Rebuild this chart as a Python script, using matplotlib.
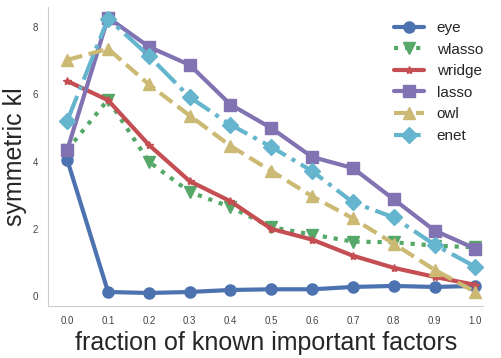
import matplotlib
matplotlib.use("Agg")
import matplotlib.pyplot as plt
import seaborn as sns

sns.set_style("white")
plt.rcParams['font.family'] = ['Liberation Sans', 'DejaVu Sans']

fractions = [0.0, 0.1, 0.2, 0.3, 0.4, 0.5, 0.6, 0.7, 0.8, 0.9, 1.0]
tick_labels = ["0.0", "0.1", "0.2", "0.3", "0.4", "0.5", "0.6", "0.7", "0.8", "0.9", "1.0"]
eye    = [4.05, 0.12, 0.09, 0.12, 0.18, 0.20, 0.20, 0.27, 0.30, 0.27, 0.30]
wlasso = [4.35, 5.85, 4.00, 3.10, 2.65, 2.05, 1.83, 1.62, 1.60, 1.50, 1.45]
wridge = [6.40, 5.83, 4.50, 3.42, 2.82, 2.00, 1.68, 1.20, 0.84, 0.57, 0.33]
lasso  = [4.35, 8.29, 7.42, 6.88, 5.70, 5.00, 4.14, 3.81, 2.88, 1.95, 1.41]
owl    = [7.03, 7.36, 6.30, 5.37, 4.47, 3.72, 2.97, 2.31, 1.56, 0.78, 0.12]
enet   = [5.22, 8.26, 7.15, 5.92, 5.10, 4.44, 3.72, 2.79, 2.34, 1.53, 0.87]

fig, ax = plt.subplots(figsize=(5.01, 3.58), dpi=100)
lw = 3
ms = 8
ax.plot(fractions, eye, color='#4C72B0', ls='-', marker='o', lw=lw, ms=ms, label='eye')
ax.plot(fractions, wlasso, color='#55A868', ls=':', marker='v', lw=lw, ms=ms, label='wlasso')
ax.plot(fractions, wridge, color='#C44E52', ls='-', marker='*', lw=lw, ms=6, label='wridge')
ax.plot(fractions, lasso, color='#8172B2', ls='-', marker='s', lw=lw, ms=ms, label='lasso')
ax.plot(fractions, owl, color='#CCB974', ls='--', marker='^', lw=lw, ms=ms, label='owl')
ax.plot(fractions, enet, color='#64B5CD', ls='-.', marker='D', lw=lw, ms=ms, label='enet')

ax.set_xlim(-0.047, 1.02)
ax.set_ylim(-0.3, 8.6)
ax.set_xticks(fractions)
ax.set_xticklabels(tick_labels)
ax.set_yticks([0, 2, 4, 6, 8])
ax.tick_params(labelsize=7, colors='#444444')
ax.set_xlabel('fraction of known important factors', fontsize=18, color='#262626')
ax.set_ylabel('symmetric kl', fontsize=18, color='#262626')
sns.despine(ax=ax)
for s in ['left', 'bottom']:
    ax.spines[s].set_color('#cccccc')
ax.legend(loc='upper right', bbox_to_anchor=(1.03, 1.0), frameon=False, fontsize=11)
fig.subplots_adjust(left=0.096, right=0.965, top=0.98, bottom=0.145)
fig.savefig('out.png', dpi=100)
